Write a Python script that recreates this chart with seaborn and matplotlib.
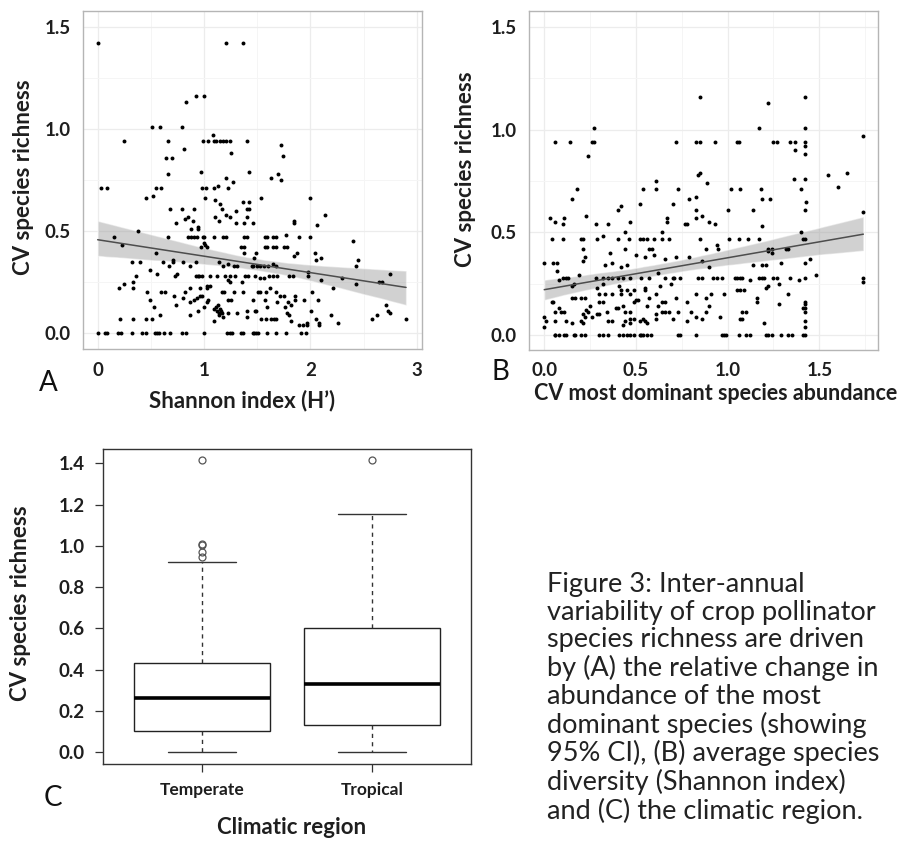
import numpy as np
import pandas as pd
import matplotlib
matplotlib.use("Agg")
import matplotlib.pyplot as plt
from matplotlib.ticker import MultipleLocator
import seaborn as sns

# Panel A: Shannon index (H') vs CV species richness
shannon_pts = [
    (0.00, 1.42), (1.21, 1.42), (1.37, 1.42),
    (0.92, 1.16), (1.00, 1.16), (0.83, 1.13),
    (0.51, 1.01), (0.59, 1.01), (0.79, 1.01),
    (0.25, 0.94), (0.66, 0.94), (0.99, 0.94), (1.04, 0.94), (1.09, 0.94), (1.11, 0.94),
    (1.15, 0.94), (1.18, 0.94), (1.21, 0.94), (1.24, 0.94), (1.40, 0.94),
    (1.08, 0.97), (1.72, 0.92), (0.81, 0.90), (1.25, 0.88), (1.74, 0.87), (0.64, 0.86), (0.70, 0.86),
    (0.66, 0.78), (0.97, 0.79), (1.42, 0.79), (1.70, 0.78), (1.72, 0.75), (1.63, 0.76), (1.21, 0.76), (1.27, 0.74),
    (0.03, 0.71), (0.09, 0.71), (0.55, 0.71), (0.60, 0.71), (0.98, 0.71), (1.02, 0.71), (1.09, 0.71),
    (1.13, 0.72), (1.23, 0.71),
    (0.45, 0.66), (0.52, 0.67), (1.01, 0.66), (1.10, 0.65), (1.15, 0.63), (1.17, 0.61), (1.37, 0.64),
    (1.42, 0.64), (1.54, 0.66), (2.00, 0.66),
    (0.68, 0.61), (0.79, 0.61), (0.91, 0.61), (1.40, 0.61), (1.42, 0.61), (1.30, 0.60), (2.14, 0.58),
    (0.85, 0.57), (1.10, 0.57), (1.21, 0.58), (1.24, 0.57), (1.40, 0.57),
    (0.74, 0.54), (0.82, 0.56), (0.90, 0.55), (1.14, 0.55), (1.30, 0.54), (1.38, 0.54), (1.46, 0.54),
    (1.85, 0.54), (1.85, 0.55), (2.06, 0.53),
    (0.94, 0.52), (0.88, 0.51), (0.94, 0.51), (0.38, 0.50),
    (0.66, 0.47), (0.15, 0.47), (0.85, 0.47), (0.88, 0.47), (0.91, 0.47), (0.93, 0.47), (0.99, 0.47),
    (1.00, 0.47), (1.09, 0.47), (1.18, 0.47), (1.21, 0.47), (1.38, 0.47), (1.40, 0.47), (1.57, 0.47),
    (1.59, 0.47), (1.65, 0.47), (1.68, 0.47), (1.77, 0.48), (1.89, 0.47), (2.00, 0.47), (2.40, 0.45),
    (1.00, 0.44), (1.01, 0.43), (1.03, 0.42), (0.97, 0.42), (0.23, 0.43), (1.35, 0.42), (1.38, 0.42),
    (1.57, 0.42), (1.59, 0.42), (1.65, 0.42), (1.68, 0.42), (1.75, 0.42), (1.78, 0.42),
    (1.38, 0.39), (1.49, 0.39), (1.47, 0.37), (1.87, 0.39), (1.85, 0.38), (2.04, 0.39), (2.05, 0.36),
    (2.10, 0.37), (0.55, 0.39), (2.45, 0.36), (2.43, 0.33),
    (0.32, 0.35), (0.40, 0.35), (0.71, 0.36), (0.71, 0.35), (0.92, 0.35), (0.80, 0.35), (1.14, 0.35),
    (1.18, 0.33), (1.23, 0.34), (1.28, 0.33), (1.31, 0.33), (1.45, 0.33), (1.46, 0.33), (1.50, 0.33),
    (1.53, 0.33), (1.56, 0.33), (1.60, 0.33), (1.65, 0.34), (1.68, 0.33), (0.61, 0.35),
    (0.49, 0.31), (0.56, 0.29), (0.67, 0.33), (0.73, 0.28), (0.75, 0.29), (0.87, 0.33), (0.92, 0.28),
    (0.94, 0.28), (0.95, 0.28), (0.98, 0.28), (1.06, 0.28), (1.12, 0.28), (1.20, 0.28), (1.24, 0.28),
    (1.29, 0.28), (1.39, 0.28), (1.41, 0.28), (1.48, 0.28), (1.53, 0.27), (1.56, 0.27), (1.61, 0.28),
    (1.65, 0.28), (1.69, 0.28), (1.80, 0.28), (1.84, 0.28), (1.98, 0.30), (1.98, 0.28), (2.30, 0.27),
    (2.75, 0.29), (0.36, 0.28),
    (2.10, 0.26), (2.65, 0.25), (2.67, 0.25), (2.43, 0.24), (1.23, 0.26), (1.24, 0.25), (1.36, 0.25),
    (0.25, 0.24), (0.33, 0.25),
    (0.20, 0.22), (0.33, 0.22), (0.46, 0.20), (0.60, 0.20), (0.63, 0.20), (0.72, 0.18), (0.82, 0.20),
    (1.03, 0.23), (1.06, 0.23), (1.03, 0.22), (0.87, 0.22), (0.96, 0.22), (1.17, 0.20), (1.19, 0.20),
    (1.28, 0.20), (1.37, 0.20), (1.51, 0.20), (1.53, 0.20), (1.58, 0.20), (1.62, 0.22), (1.68, 0.20),
    (1.71, 0.18), (1.75, 0.18), (1.86, 0.18), (1.86, 0.16), (2.02, 0.20), (2.21, 0.22),
    (0.49, 0.16), (0.53, 0.13), (0.74, 0.14), (0.80, 0.17), (0.87, 0.15), (0.91, 0.16), (0.93, 0.17),
    (0.96, 0.18), (0.98, 0.18), (0.87, 0.09), (0.94, 0.11), (1.00, 0.13), (1.03, 0.15), (1.04, 0.16),
    (1.09, 0.12), (1.11, 0.13), (1.13, 0.14), (1.12, 0.11), (1.14, 0.10), (1.15, 0.12), (1.16, 0.11),
    (1.17, 0.10), (1.18, 0.08), (1.09, 0.06), (1.14, 0.09), (1.23, 0.10), (1.23, 0.16), (1.25, 0.16),
    (1.31, 0.10), (1.40, 0.08), (1.40, 0.11), (1.48, 0.11), (1.49, 0.11), (1.46, 0.16), (1.57, 0.16),
    (1.59, 0.13), (1.54, 0.07), (1.58, 0.07), (1.63, 0.07), (1.66, 0.07), (1.68, 0.07), (1.69, 0.15),
    (1.76, 0.13), (1.79, 0.15), (1.78, 0.10), (1.80, 0.09), (1.82, 0.06), (1.82, 0.14), (1.89, 0.04),
    (1.93, 0.04), (1.94, 0.16), (1.97, 0.04), (1.97, 0.05), (2.01, 0.11), (2.05, 0.07), (2.08, 0.05),
    (2.08, 0.04), (2.19, 0.09), (2.07, 0.16), (2.26, 0.05), (2.58, 0.07), (2.63, 0.09), (2.71, 0.14),
    (2.73, 0.11), (2.75, 0.10), (2.90, 0.07), (0.21, 0.07), (0.33, 0.07), (0.45, 0.07), (0.51, 0.07),
    (0.59, 0.09),
]
shannon_zero_x = [0.00, 0.07, 0.09, 0.19, 0.22, 0.32, 0.42, 0.45, 0.54, 0.56, 0.58, 0.62, 0.68,
                  0.79, 0.83, 1.00, 1.22, 1.24, 1.26, 1.35, 1.37, 1.46, 1.47, 1.49, 1.51, 1.59,
                  1.68, 1.77, 1.91, 1.96]

# Panel B: CV of most dominant species abundance vs CV species richness
dominant_pts = [
    (0.85, 1.16), (1.22, 1.13), (1.42, 1.16), (0.27, 1.01), (1.17, 1.01), (1.42, 1.01), (1.74, 0.97),
    (0.06, 0.94), (0.14, 0.94), (0.26, 0.94), (0.27, 0.94), (0.72, 0.94), (0.83, 0.94), (0.85, 0.94),
    (0.93, 0.94), (1.05, 0.94), (1.06, 0.94), (1.25, 0.94), (1.27, 0.94), (1.34, 0.94), (1.37, 0.94),
    (1.37, 0.90), (1.42, 0.94), (1.42, 0.92), (1.42, 0.88), (0.24, 0.87),
    (1.55, 0.78), (1.65, 0.79), (1.60, 0.72), (0.84, 0.78), (0.85, 0.79), (0.89, 0.74), (1.36, 0.76),
    (1.42, 0.76), (0.61, 0.75), (0.61, 0.71), (0.18, 0.71), (0.54, 0.71), (0.73, 0.71), (1.02, 0.71),
    (1.07, 0.71), (1.18, 0.71), (1.40, 0.71),
    (0.15, 0.66), (0.79, 0.66), (0.83, 0.67), (0.42, 0.63), (0.40, 0.61), (0.52, 0.64), (0.70, 0.64),
    (1.14, 0.61), (1.19, 0.66), (1.23, 0.66), (1.43, 0.65), (1.42, 0.61), (0.83, 0.61), (1.74, 0.60),
    (1.00, 0.61),
    (0.03, 0.57), (0.11, 0.57), (0.06, 0.55), (0.10, 0.54), (0.23, 0.58), (0.28, 0.54), (0.35, 0.54),
    (0.47, 0.55), (0.44, 0.50), (0.54, 0.47), (0.67, 0.57), (0.67, 0.55), (0.78, 0.54), (0.77, 0.54),
    (0.83, 0.57), (0.86, 0.58), (0.90, 0.55), (0.93, 0.54), (1.19, 0.53), (0.64, 0.50), (1.40, 0.50),
    (0.04, 0.47), (0.10, 0.47), (0.20, 0.47), (0.21, 0.47), (0.29, 0.47), (0.32, 0.48), (0.40, 0.47),
    (0.46, 0.47), (0.52, 0.47), (0.56, 0.47), (0.60, 0.47), (0.64, 0.47), (0.68, 0.47), (0.85, 0.47),
    (1.01, 0.47), (1.06, 0.47), (1.11, 0.47), (1.17, 0.47), (1.41, 0.47), (1.42, 0.47),
    (0.21, 0.42), (0.44, 0.42), (0.57, 0.42), (0.59, 0.42), (0.88, 0.42), (0.94, 0.44), (0.95, 0.42),
    (1.22, 0.42), (1.24, 0.42), (1.32, 0.42), (1.33, 0.42), (1.22, 0.41), (1.24, 0.40), (0.36, 0.40),
    (0.33, 0.34), (0.21, 0.36), (0.22, 0.38), (0.37, 0.35), (0.45, 0.34), (0.42, 0.33), (0.50, 0.39),
    (0.55, 0.38), (0.60, 0.39), (0.66, 0.37), (0.72, 0.38), (0.79, 0.38), (0.86, 0.36), (0.90, 0.33),
    (1.14, 0.34), (1.19, 0.34), (1.21, 0.34), (1.29, 0.35), (1.42, 0.35), (1.45, 0.37), (0.00, 0.35),
    (0.05, 0.35), (0.07, 0.35), (0.07, 0.31),
    (0.10, 0.28), (0.12, 0.28), (0.13, 0.28), (0.19, 0.29), (0.28, 0.28), (0.32, 0.28), (0.35, 0.28),
    (0.37, 0.28), (0.40, 0.28), (0.43, 0.28), (0.47, 0.28), (0.53, 0.28), (0.57, 0.28), (0.62, 0.30),
    (0.66, 0.28), (0.70, 0.28), (0.71, 0.28), (0.74, 0.28), (0.84, 0.28), (0.86, 0.28), (0.92, 0.28),
    (0.94, 0.28), (0.97, 0.28), (1.04, 0.28), (1.05, 0.28), (1.07, 0.28), (1.08, 0.28), (1.12, 0.27),
    (1.17, 0.28), (1.19, 0.28), (1.20, 0.28), (1.25, 0.28), (1.27, 0.28), (1.34, 0.28), (1.39, 0.27),
    (1.42, 0.28), (1.48, 0.29), (1.74, 0.28), (1.74, 0.26),
    (0.08, 0.27), (0.15, 0.24), (0.16, 0.25), (0.32, 0.25), (0.29, 0.23), (0.41, 0.24), (0.45, 0.22),
    (0.49, 0.22), (0.55, 0.23), (0.55, 0.22), (0.63, 0.24), (0.69, 0.25), (1.22, 0.24), (1.21, 0.23),
    (1.28, 0.25), (1.05, 0.22), (1.07, 0.22), (1.09, 0.22),
    (0.30, 0.20), (0.33, 0.20), (0.37, 0.20), (0.42, 0.22), (0.42, 0.20), (0.47, 0.20), (0.51, 0.17),
    (0.57, 0.18), (0.61, 0.20), (0.72, 0.18), (0.83, 0.20), (0.91, 0.20), (0.98, 0.20), (1.16, 0.18),
    (1.16, 0.16), (1.33, 0.20), (1.28, 0.15),
    (0.04, 0.16), (0.05, 0.16), (0.15, 0.18), (0.17, 0.18), (0.20, 0.18), (0.22, 0.18), (0.25, 0.14),
    (0.30, 0.16), (0.32, 0.16), (0.43, 0.14), (0.44, 0.11), (0.49, 0.16), (0.50, 0.17), (0.56, 0.14),
    (0.62, 0.14), (0.64, 0.16), (0.66, 0.16), (0.78, 0.16), (0.88, 0.18), (0.90, 0.14), (1.42, 0.16),
    (1.42, 0.15), (1.41, 0.13), (1.42, 0.13),
    (0.08, 0.13), (0.06, 0.11), (0.09, 0.11), (0.11, 0.11), (0.00, 0.09), (0.01, 0.07), (0.00, 0.04),
    (0.06, 0.07), (0.12, 0.07), (0.15, 0.06), (0.21, 0.10), (0.22, 0.09), (0.20, 0.07), (0.21, 0.06),
    (0.23, 0.12), (0.24, 0.11), (0.26, 0.09), (0.29, 0.10), (0.30, 0.10), (0.34, 0.11), (0.35, 0.07),
    (0.37, 0.07), (0.39, 0.13), (0.40, 0.13), (0.43, 0.05), (0.44, 0.07), (0.47, 0.11), (0.47, 0.08),
    (0.47, 0.06), (0.49, 0.08), (0.52, 0.07), (0.54, 0.08), (0.55, 0.07), (0.56, 0.06), (0.61, 0.10),
    (0.61, 0.08), (0.64, 0.11), (0.66, 0.11), (0.68, 0.11), (0.70, 0.08), (0.73, 0.11), (0.78, 0.07),
    (0.80, 0.11), (0.83, 0.09), (0.86, 0.08), (0.88, 0.11), (0.96, 0.09), (1.07, 0.08), (1.08, 0.08),
    (1.08, 0.11), (1.10, 0.11), (1.20, 0.06), (1.42, 0.11), (1.42, 0.07), (1.42, 0.04),
]
dominant_zero_x = [0.06, 0.06, 0.08, 0.11, 0.12, 0.16, 0.17, 0.20, 0.22, 0.30, 0.32, 0.35, 0.41,
                   0.43, 0.45, 0.47, 0.49, 0.52, 0.53, 0.54, 0.56, 0.58, 0.73, 0.74, 0.83, 0.97,
                   0.98, 0.99, 1.06, 1.10, 1.12, 1.21, 1.22, 1.24, 1.29, 1.33, 1.35, 1.41, 1.42]

# Panel C: box summary per climatic region
regions = ["Temperate", "Tropical"]
box_q1 = [0.103, 0.132]
box_median = [0.265, 0.329]
box_q3 = [0.433, 0.604]
whisker_low = [0.0, 0.0]
whisker_high = [0.920, 1.155]
outliers = [[1.414, 1.008, 1.004, 0.972, 0.945], [1.414]]

caption = ("Figure 3: Inter-annual\nvariability of crop pollinator\nspecies richness are driven\n"
           "by (A) the relative change in\nabundance of the most\ndominant species (showing\n"
           "95% CI), (B) average species\ndiversity (Shannon index)\nand (C) the climatic region.")

sns.set_theme(style="whitegrid")
plt.rcParams["font.family"] = ["Lato", "DejaVu Sans"]

W, H = 903, 841
fig = plt.figure(figsize=(W / 100, H / 100), dpi=100)
fig.patch.set_facecolor("white")


def px_axes(l, t, r, b):
    return fig.add_axes([l / W, 1 - b / H, (r - l) / W, (b - t) / H])


def scatter_panel(ax, pts, zero_x, xname):
    df = pd.DataFrame(pts, columns=[xname, "cv"])
    df = pd.concat([df, pd.DataFrame({xname: zero_x, "cv": 0.0})], ignore_index=True)
    sns.regplot(data=df, x=xname, y="cv", ax=ax, scatter=False, ci=95,
                color="#4d4d4d", line_kws=dict(lw=1.1, zorder=4))
    for coll in ax.collections:
        coll.set_facecolor("#9a9a9a")
        coll.set_alpha(0.45)
        coll.set_zorder(2)
    sns.scatterplot(data=df, x=xname, y="cv", ax=ax, color="black", s=8,
                    linewidth=0, zorder=3)
    ax.set_xlabel("")
    ax.set_ylabel("")
    ax.set_facecolor("white")
    ax.grid(which="major", color="#ececec", lw=0.9)
    ax.grid(which="minor", color="#f5f5f5", lw=0.7)
    ax.yaxis.set_major_locator(MultipleLocator(0.5))
    ax.yaxis.set_minor_locator(MultipleLocator(0.25))
    ax.set_yticks([0, 0.5, 1.0, 1.5])
    ax.set_yticklabels(["0.0", "0.5", "1.0", "1.5"])
    for s in ax.spines.values():
        s.set_color("#b5b5b5")
        s.set_linewidth(1.0)
    ax.tick_params(which="major", length=3, width=0.8, color="#b5b5b5", pad=6,
                   labelsize=13.5, labelcolor="#1e1e1e")
    ax.tick_params(which="minor", length=0)
    for lab in ax.get_xticklabels() + ax.get_yticklabels():
        lab.set_fontweight("bold")


# Panel A
axA = px_axes(83, 11, 422, 349)
scatter_panel(axA, shannon_pts, shannon_zero_x, "shannon")
axA.set_xlim(-0.138, 3.05)
axA.set_ylim(-0.078, 1.578)
axA.set_xticks([0, 1, 2, 3])
axA.set_xticklabels(["0", "1", "2", "3"], fontweight="bold")
axA.xaxis.set_minor_locator(MultipleLocator(0.5))

# Panel B
axB = px_axes(529, 11, 878, 350)
scatter_panel(axB, dominant_pts, dominant_zero_x, "dominant")
axB.set_xlim(-0.083, 1.82)
axB.set_ylim(-0.073, 1.578)
axB.set_xticks([0, 0.5, 1.0, 1.5])
axB.set_xticklabels(["0.0", "0.5", "1.0", "1.5"], fontweight="bold")
axB.xaxis.set_minor_locator(MultipleLocator(0.25))

# Panel C
axC = px_axes(103, 449, 471, 764)
stats = []
for i, name in enumerate(regions):
    stats.append(dict(label=name, q1=box_q1[i], med=box_median[i], q3=box_q3[i],
                      whislo=whisker_low[i], whishi=whisker_high[i], fliers=outliers[i]))
axC.bxp(stats, positions=[1, 2], widths=0.8, capwidths=0.4, patch_artist=True,
        boxprops=dict(facecolor="white", edgecolor="#222222", lw=1.0),
        medianprops=dict(color="black", lw=2.6),
        whiskerprops=dict(color="#333333", lw=1.0, linestyle=(0, (3, 3))),
        capprops=dict(color="#333333", lw=1.0),
        flierprops=dict(marker="o", markerfacecolor="none", markeredgecolor="#555555",
                        markersize=5, markeredgewidth=0.9))
axC.set_facecolor("white")
axC.grid(False)
axC.set_xlim(0.42, 2.58)
axC.set_ylim(-0.057, 1.469)
axC.set_yticks(np.arange(0, 1.41, 0.2))
axC.set_yticklabels([f"{v:.1f}" for v in np.arange(0, 1.41, 0.2)])
axC.set_xticks([1, 2])
axC.set_xticklabels(regions)
for s in axC.spines.values():
    s.set_color("#333333")
    s.set_linewidth(1.0)
axC.tick_params(length=6, width=0.9, color="#333333", pad=7, labelsize=13.5,
                labelcolor="#1e1e1e", direction="out", left=True, bottom=True)
axC.tick_params(axis="x", labelsize=12.5)
for lab in axC.get_xticklabels() + axC.get_yticklabels():
    lab.set_fontweight("bold")


def ftxt(x, y, s, **kw):
    fig.text(x / W, 1 - y / H, s, **kw)


lab_kw = dict(fontweight="bold", color="#1e1e1e", ha="center", va="center")
ftxt(24, 177, "CV species richness", rotation=90, fontsize=16, **lab_kw)
ftxt(242, 401, "Shannon index (H\u2019)", fontsize=16, **lab_kw)
ftxt(466, 169, "CV species richness", rotation=90, fontsize=16, **lab_kw)
ftxt(716, 393, "CV most dominant species abundance", fontsize=15.5, **lab_kw)
ftxt(21, 603, "CV species richness", rotation=90, fontsize=16, **lab_kw)
ftxt(292, 827, "Climatic region", fontsize=16, **lab_kw)

ftxt(48, 383, "A", fontsize=20, color="#111111", ha="center", va="center")
ftxt(500, 372, "B", fontsize=20, color="#111111", ha="center", va="center")
ftxt(53, 798, "C", fontsize=20, color="#111111", ha="center", va="center")

ftxt(547, 572, caption, fontsize=19.5, color="#222222", ha="left", va="top", linespacing=1.13)

fig.savefig("out.png", dpi=100, facecolor="white")
